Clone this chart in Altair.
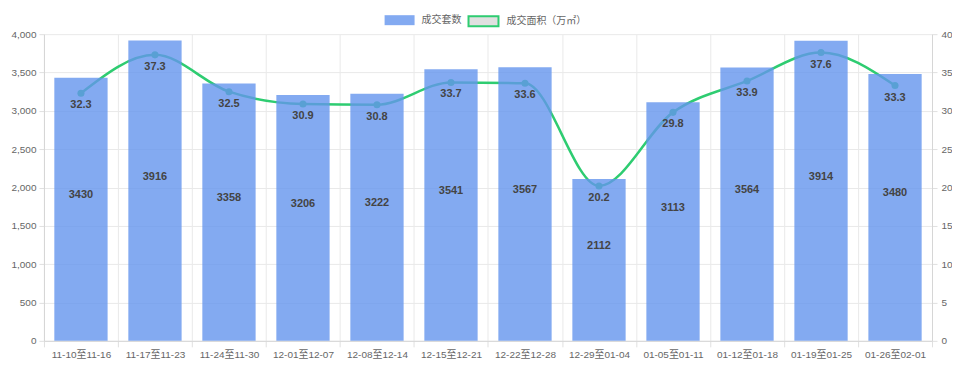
import altair as alt
import pandas as pd

weeks = ["11-10至11-16", "11-17至11-23", "11-24至11-30", "12-01至12-07",
         "12-08至12-14", "12-15至12-21", "12-22至12-28", "12-29至01-04",
         "01-05至01-11", "01-12至01-18", "01-19至01-25", "01-26至02-01"]
units = [3430, 3916, 3358, 3206, 3222, 3541, 3567, 2112, 3113, 3564, 3914, 3480]
area = [32.3, 37.3, 32.5, 30.9, 30.8, 33.7, 33.6, 20.2, 29.8, 33.9, 37.6, 33.3]

bar_name = "成交套数"
line_name = "成交面积（万㎡）"

df = pd.DataFrame({"week": weeks, "units": units, "area": area,
                   "s1": bar_name, "s2": line_name})

FONT = "Liberation Sans, Noto Sans CJK SC, sans-serif"
BAR = "#6495ed"
GREEN = "#2ecc71"
LABEL = "#666666"

base = alt.Chart(df)

x_scale = alt.Scale(paddingInner=0, paddingOuter=0)

x_enc = alt.X("week:N", sort=weeks, title=None, scale=x_scale,
              axis=alt.Axis(tickBand="extent", labelAngle=0, grid=True,
                            gridColor="#e9e9e9", domainColor="#d6d6d6",
                            tickColor="#e0e0e0", tickSize=6, labelPadding=3,
                            labelFontSize=10, labelColor=LABEL, labelFont=FONT))

left_scale = alt.Scale(domain=[0, 4000])
right_scale = alt.Scale(domain=[0, 40])

rect_path = "M-3,-1H3V1H-3Z"

line = base.mark_line(interpolate="monotone", strokeWidth=2.5).encode(
    x=x_enc,
    y=alt.Y("area:Q", scale=right_scale, title=None,
            axis=alt.Axis(orient="right", values=list(range(0, 41, 5)), grid=False,
                          domainColor="#d6d6d6", tickColor="#e0e0e0", tickSize=5,
                          labelPadding=4, labelFontSize=10, labelColor=LABEL,
                          labelFont=FONT)),
    stroke=alt.Stroke("s2:N", scale=alt.Scale(domain=[line_name], range=[GREEN]),
                      legend=alt.Legend(orient="none", legendX=434, legendY=-19,
                                        title=None, symbolType=rect_path,
                                        symbolSize=100, symbolStrokeWidth=2,
                                        symbolFillColor="#e0e0e0",
                                        labelOffset=17, labelFontSize=10,
                                        labelColor=LABEL, labelFont=FONT)),
)

points = base.mark_point(filled=True, size=50, opacity=1, color=GREEN).encode(
    x=alt.X("week:N", sort=weeks),
    y=alt.Y("area:Q", scale=right_scale, axis=None),
)

bars = base.mark_bar(opacity=0.8, width=alt.RelativeBandSize(0.72)).encode(
    x=alt.X("week:N", sort=weeks),
    y=alt.Y("units:Q", scale=left_scale, title=None,
            axis=alt.Axis(orient="left", values=list(range(0, 4001, 500)),
                          format=",d", grid=True, gridColor="#e9e9e9",
                          domainColor="#d6d6d6", tickColor="#e0e0e0",
                          tickSize=5, labelPadding=3, labelFontSize=10,
                          labelColor=LABEL, labelFont=FONT)),
    fill=alt.Fill("s1:N", scale=alt.Scale(domain=[bar_name], range=[BAR]),
                  legend=alt.Legend(orient="none", legendX=351, legendY=-19,
                                    title=None, symbolType=rect_path,
                                    symbolSize=100, symbolOpacity=0.8,
                                    symbolStrokeWidth=0,
                                    labelOffset=17, labelFontSize=10,
                                    labelColor=LABEL, labelFont=FONT)),
)

bar_text = base.transform_calculate(half="datum.units / 2").mark_text(
    font=FONT, fontSize=11, fontWeight="bold", color="#444444",
    baseline="middle", dy=-14
).encode(
    x=alt.X("week:N", sort=weeks),
    y=alt.Y("half:Q", scale=left_scale, axis=None),
    text=alt.Text("units:Q", format="d"),
)

line_text = base.mark_text(
    font=FONT, fontSize=11, fontWeight="bold", color="#444444",
    baseline="middle", dy=12
).encode(
    x=alt.X("week:N", sort=weeks),
    y=alt.Y("area:Q", scale=right_scale, axis=None),
    text=alt.Text("area:Q", format=".1f"),
)

chart = alt.layer(line, points, bars, bar_text, line_text).resolve_scale(
    y="independent"
).properties(
    width=889, height=307,
    autosize=alt.AutoSizeParams(type="none"),
    padding={"left": 36, "top": 26, "right": 20, "bottom": 30},
).configure_view(stroke=None).configure_legend(padding=0)

chart.save("out.html", embed_options={"renderer": "svg", "actions": False})
